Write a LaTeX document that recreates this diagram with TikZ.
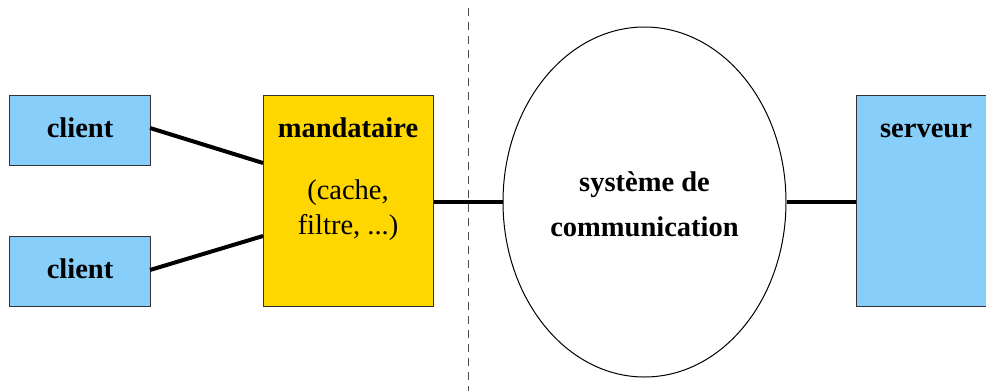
\documentclass[tikz,border=0pt]{standalone}
\usepackage{fontspec}
\setmainfont{Liberation Serif}
\usetikzlibrary{shapes.geometric}
\definecolor{skyfill}{HTML}{87CEFA}
\definecolor{goldfill}{HTML}{FFD700}
\begin{document}
\begin{tikzpicture}[x=1pt,y=-1pt,
  box/.style={draw=black!80, line width=1pt, inner sep=0pt, anchor=north west},
  clientbox/.style={box, fill=skyfill, minimum width=141pt, minimum height=70pt},
  label/.style={font=\fontsize{28.5}{32}\selectfont\bfseries, anchor=base, inner sep=0pt},
  plain/.style={font=\fontsize{28.5}{35}\selectfont, align=center},
  link/.style={line width=4pt}]
\useasboundingbox (0,0) rectangle (986,391);
\clip (0,0) rectangle (986,391);

% separator
\draw[dashed, dash pattern=on 8pt off 6pt, line width=1pt, black!70] (468,8) -- (468,391);

% boxes
\node[clientbox] (c1) at (9,95) {};
\node[clientbox] (c2) at (9,236) {};
\node[box, fill=goldfill, minimum width=170pt, minimum height=211pt] (m) at (263,95) {};
\node[box, fill=skyfill, minimum width=160pt, minimum height=211pt] (s) at (856,95) {};
\node[draw, ellipse, line width=1pt, minimum width=283pt, minimum height=350pt, inner sep=0pt] (e) at (644.5,202) {};

% labels
\node[label] at (80,137) {client};
\node[label] at (80,278) {client};
\node[label] (mt) at (348,137) {mandataire};
\node[plain] (mp) at (348,210) {(cache,\\filtre, ...)};
\node[label] at (926,137) {serveur};
\node[font=\fontsize{28.5}{45}\selectfont\bfseries, align=center] at (644.5,204) {système de\\communication};

% connectors
\coordinate (c1e) at (150,128);
\coordinate (c2e) at (150,270);
\coordinate (m1) at (263,163);
\coordinate (m2) at (263,236);
\draw[link] (c1e) -- (m1);
\draw[link] (c2e) -- (m2);
\draw[link] (m.east |- e.west) -- (e.west);
\draw[link] (e.east) -- (s.west |- e.east);
\end{tikzpicture}
\end{document}
